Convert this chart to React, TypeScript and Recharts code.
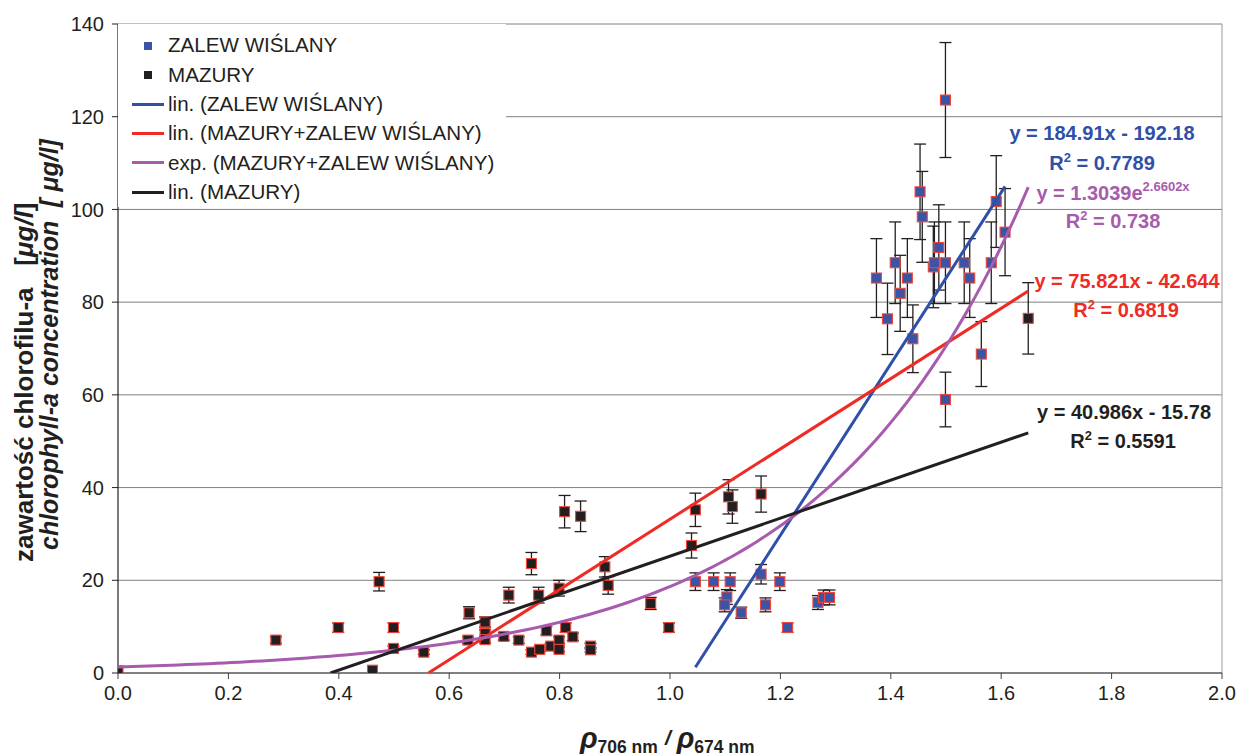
import React from 'react';
import {
  ScatterChart,
  Scatter,
  XAxis,
  YAxis,
  CartesianGrid,
  ErrorBar,
  ReferenceLine,
  Legend,
} from 'recharts';

const W = 1237;
const H = 756;
const FONT = '"Liberation Sans", Arial, Helvetica, sans-serif';

const BLUE = '#3A55A5';
const BLUE_LINE = '#2F4FA8';
const RED = '#EE2B24';
const PURPLE = '#A85BAD';
const BLACK = '#231F20';
const EDGE = '#F0463C';

// axis ticks
const xTicks = [0, 0.2, 0.4, 0.6, 0.8, 1.0, 1.2, 1.4, 1.6, 1.8, 2.0];
const yTicks = [0, 20, 40, 60, 80, 100, 120, 140];

// ZALEW WIŚLANY
const zalewX = [
  1.046, 1.079, 1.109, 1.103, 1.099, 1.129, 1.165, 1.173, 1.199, 1.213, 1.268,
  1.278, 1.289, 1.374, 1.394, 1.408, 1.417, 1.43, 1.44, 1.453, 1.457, 1.477,
  1.479, 1.487, 1.499, 1.499, 1.499, 1.533, 1.543, 1.564, 1.582, 1.591, 1.607,
];
const zalewY = [
  19.7, 19.7, 19.7, 16.4, 14.7, 13.0, 21.3, 14.7, 19.7, 9.8, 15.2, 16.3, 16.3,
  85.2, 76.4, 88.5, 81.9, 85.2, 72.1, 103.8, 98.4, 87.6, 88.5, 91.8, 88.5,
  59.0, 123.6, 88.5, 85.2, 68.8, 88.5, 101.7, 95.1,
];
const zalewErr = [
  1.9, 1.9, 1.9, 1.6, 1.5, 1.2, 2.1, 1.5, 1.9, 1.0, 1.5, 1.6, 1.6, 8.5, 7.7,
  8.8, 8.2, 8.5, 7.3, 10.3, 9.8, 8.8, 8.8, 9.2, 8.8, 5.9, 12.4, 8.8, 8.5, 7.0,
  8.8, 9.9, 9.4,
];

// MAZURY
const mazuryX = [
  0.0, 0.286, 0.399, 0.461, 0.473, 0.499, 0.499, 0.554, 0.634, 0.636, 0.665,
  0.665, 0.665, 0.699, 0.708, 0.726, 0.749, 0.749, 0.762, 0.764, 0.776, 0.784,
  0.799, 0.799, 0.799, 0.809, 0.811, 0.824, 0.838, 0.856, 0.856, 0.882, 0.888,
  0.965, 0.998, 1.039, 1.046, 1.106, 1.113, 1.165, 1.649,
];
const mazuryY = [
  0.5, 7.1, 9.8, 0.6, 19.7, 9.8, 5.3, 4.5, 7.1, 13.0, 11.0, 8.5, 7.2, 7.9,
  16.8, 7.1, 23.6, 4.5, 16.8, 5.1, 9.1, 5.8, 18.3, 7.1, 5.1, 34.8, 9.8, 7.8,
  33.8, 5.8, 5.0, 22.9, 18.9, 15.0, 9.8, 27.5, 35.2, 38.0, 35.9, 38.6, 76.5,
];
const mazuryErr = [
  0.0, 0.7, 1.0, 0.0, 2.0, 1.0, 0.5, 0.5, 0.7, 1.3, 1.1, 0.8, 0.7, 0.8, 1.7,
  0.7, 2.4, 0.5, 1.7, 0.5, 0.9, 0.6, 1.7, 0.7, 0.5, 3.5, 1.0, 0.8, 3.3, 0.6,
  0.5, 2.2, 1.9, 1.3, 1.0, 2.7, 3.6, 3.7, 3.6, 3.9, 7.7,
];

// legend labels
const legendLabels = [
  'ZALEW WIŚLANY',
  'MAZURY',
  'lin. (ZALEW WIŚLANY)',
  'lin. (MAZURY+ZALEW WIŚLANY)',
  'exp. (MAZURY+ZALEW WIŚLANY)',
  'lin. (MAZURY)',
];

// trendline coefficients, as printed on the chart
const fitZalew = { slope: 184.91, intercept: -192.18, r2: '0.7789' };
const fitAllLin = { slope: 75.821, intercept: -42.644, r2: '0.6819' };
const fitAllExp = { a: 1.3039, k: 2.6602, r2: '0.738' };
const fitMazury = { slope: 40.986, intercept: -15.78, r2: '0.5591' };

type P = { x: number; y: number; e?: number };

const toPts = (xs: number[], ys: number[], es: number[]): P[] =>
  xs.map((x, i) => ({ x, y: ys[i], e: es[i] }));

const zalewData = toPts(zalewX, zalewY, zalewErr);
const mazuryData = toPts(mazuryX, mazuryY, mazuryErr);
const allX = [...zalewX, ...mazuryX];
const allMin = Math.min(...allX);
const allMax = Math.max(...allX);

// straight trendline over a series' x-range, clipped at the plot floor (y = 0)
const linTrend = (fit: { slope: number; intercept: number }, x0: number, x1: number): P[] => {
  const start = Math.max(x0, -fit.intercept / fit.slope);
  return [
    { x: start, y: fit.slope * start + fit.intercept },
    { x: x1, y: fit.slope * x1 + fit.intercept },
  ];
};

const expTrend = (fit: { a: number; k: number }, x0: number, x1: number, n: number): P[] =>
  Array.from({ length: n + 1 }, (_, i) => {
    const x = x0 + ((x1 - x0) * i) / n;
    return { x, y: fit.a * Math.exp(fit.k * x) };
  });

const trendZalew = linTrend(fitZalew, Math.min(...zalewX), Math.max(...zalewX));
const trendAllLin = linTrend(fitAllLin, allMin, allMax);
const trendAllExp = expTrend(fitAllExp, allMin, allMax, 120);
const trendMazury = linTrend(fitMazury, Math.min(...mazuryX), Math.max(...mazuryX));

const SquareMarker = (fill: string) => (props: any) => {
  const { cx, cy } = props;
  if (cx == null || cy == null) return <g />;
  return (
    <rect
      x={cx - 5}
      y={cy - 5}
      width={10}
      height={10}
      fill={fill}
      stroke={EDGE}
      strokeWidth={1.1}
    />
  );
};

const NoMarker = () => <g />;

const legendItems = [
  { label: legendLabels[0], kind: 'square', color: BLUE },
  { label: legendLabels[1], kind: 'square', color: BLACK },
  { label: legendLabels[2], kind: 'line', color: BLUE_LINE },
  { label: legendLabels[3], kind: 'line', color: RED },
  { label: legendLabels[4], kind: 'line', color: PURPLE },
  { label: legendLabels[5], kind: 'line', color: BLACK },
];

const LegendBox = () => (
  <div
    style={{
      width: 388,
      height: 183,
      background: '#fff',
      fontFamily: FONT,
      fontSize: 20.6,
      color: BLACK,
      paddingTop: 7,
      boxSizing: 'border-box',
    }}
  >
    {legendItems.map((it) => (
      <div key={it.label} style={{ display: 'flex', alignItems: 'center', height: 29.3 }}>
        <div style={{ width: 50, height: '100%', position: 'relative', flex: '0 0 50px' }}>
          {it.kind === 'square' ? (
            <div
              style={{
                position: 'absolute',
                left: 26,
                top: '50%',
                width: 8,
                height: 8,
                marginTop: -4,
                background: it.color,
              }}
            />
          ) : (
            <div
              style={{
                position: 'absolute',
                left: 14,
                top: '50%',
                width: 32,
                height: 3,
                marginTop: -1.5,
                background: it.color,
              }}
            />
          )}
        </div>
        <span style={{ lineHeight: 1, whiteSpace: 'nowrap' }}>{it.label}</span>
      </div>
    ))}
  </div>
);

const fmtFit = (slope: number, intercept: number) =>
  `y = ${slope}x ${intercept < 0 ? '-' : '+'} ${Math.abs(intercept)}`;

const Annotations = () => (
  <svg
    width={W}
    height={H}
    style={{ position: 'absolute', left: 0, top: 0, pointerEvents: 'none' }}
  >
    <g fontFamily={FONT} fontWeight="bold" fontSize={20} textAnchor="middle">
      <text x={1102} y={140} fill={BLUE_LINE}>
        {fmtFit(fitZalew.slope, fitZalew.intercept)}
      </text>
      <text x={1102} y={170} fill={BLUE_LINE}>
        R<tspan dy={-8} fontSize={13}>2</tspan>
        <tspan dy={8}>{` = ${fitZalew.r2}`}</tspan>
      </text>

      <text x={1113} y={200} fill={PURPLE}>
        {`y = ${fitAllExp.a}e`}
        <tspan dy={-9} fontSize={13}>{`${fitAllExp.k}x`}</tspan>
      </text>
      <text x={1113} y={228} fill={PURPLE}>
        R<tspan dy={-8} fontSize={13}>2</tspan>
        <tspan dy={8}>{` = ${fitAllExp.r2}`}</tspan>
      </text>

      <text x={1127} y={288} fill={RED}>
        {fmtFit(fitAllLin.slope, fitAllLin.intercept)}
      </text>
      <text x={1126} y={317} fill={RED}>
        R<tspan dy={-8} fontSize={13}>2</tspan>
        <tspan dy={8}>{` = ${fitAllLin.r2}`}</tspan>
      </text>

      <text x={1124} y={419} fill={BLACK}>
        {fmtFit(fitMazury.slope, fitMazury.intercept)}
      </text>
      <text x={1123} y={448} fill={BLACK}>
        R<tspan dy={-8} fontSize={13}>2</tspan>
        <tspan dy={8}>{` = ${fitMazury.r2}`}</tspan>
      </text>
    </g>

    {/* y-axis title */}
    <g fontFamily={FONT} fontWeight="bold" fill={BLACK}>
      <text transform="translate(33,562) rotate(-90)" fontSize={26}>
        zawartość chlorofilu-a{'\u00a0\u00a0\u00a0'}[<tspan fontStyle="italic">μg/l</tspan>]
      </text>
      <text transform="translate(58,550) rotate(-90)" fontStyle="italic" fontSize={25}>
        chlorophyll-a concentration{'\u00a0\u00a0'}[ μg/l]
      </text>
    </g>

    {/* x-axis title */}
    <text x={580} y={748} fontFamily={FONT} fontWeight="bold" fill={BLACK}>
      <tspan fontSize={29} fontStyle="italic">ρ</tspan>
      <tspan fontSize={17.5} dy={5}>706 nm</tspan>
      <tspan fontSize={21} dx={7} dy={-8} fontStyle="italic">/</tspan>
      <tspan fontSize={29} dx={6} dy={3} fontStyle="italic">ρ</tspan>
      <tspan fontSize={17.5} dy={5}>674 nm</tspan>
    </text>
  </svg>
);

export default function App() {
  return (
    <div style={{ position: 'absolute', left: 0, top: 0, width: W, height: H, background: '#fff' }}>
      <ScatterChart width={W} height={H} margin={{ top: 24, right: 15, left: 0, bottom: 0 }}>
        <CartesianGrid vertical={false} stroke="#808080" strokeWidth={1} />
        <ReferenceLine x={2} stroke="#9A9A9A" strokeWidth={1} ifOverflow="extendDomain" />
        <XAxis
          type="number"
          dataKey="x"
          domain={[0, 2]}
          ticks={xTicks}
          interval={0}
          allowDataOverflow
          tickFormatter={(v: number) => v.toFixed(1)}
          tick={{ fontSize: 20, fill: BLACK, fontFamily: FONT }}
          tickSize={6}
          tickMargin={7}
          axisLine={{ stroke: '#404040', strokeWidth: 1.2 }}
          tickLine={{ stroke: '#404040' }}
          height={83}
        />
        <YAxis
          type="number"
          dataKey="y"
          domain={[0, 140]}
          ticks={yTicks}
          interval={0}
          allowDataOverflow
          tick={{ fontSize: 20, fill: BLACK, fontFamily: FONT }}
          tickSize={6}
          tickMargin={8}
          axisLine={{ stroke: BLACK, strokeWidth: 1.2 }}
          tickLine={{ stroke: BLACK }}
          width={118}
        />
        <Legend
          layout="horizontal"
          verticalAlign="middle"
          align="center"
          wrapperStyle={{ left: 118, top: 24, width: 388, height: 183, margin: 0, padding: 0 }}
          content={() => <LegendBox />}
        />
        <Scatter
          name={legendLabels[0]}
          data={zalewData}
          fill={BLUE}
          shape={SquareMarker(BLUE)}
          isAnimationActive={false}
        >
          <ErrorBar dataKey="e" direction="y" width={6} stroke={BLACK} strokeWidth={1.3} />
        </Scatter>
        <Scatter
          name={legendLabels[1]}
          data={mazuryData}
          fill={BLACK}
          shape={SquareMarker(BLACK)}
          isAnimationActive={false}
        >
          <ErrorBar dataKey="e" direction="y" width={6} stroke={BLACK} strokeWidth={1.3} />
        </Scatter>
        <Scatter
          name={legendLabels[2]}
          data={trendZalew}
          line={{ stroke: BLUE_LINE, strokeWidth: 3 }}
          shape={NoMarker}
          isAnimationActive={false}
        />
        <Scatter
          name={legendLabels[3]}
          data={trendAllLin}
          line={{ stroke: RED, strokeWidth: 3 }}
          shape={NoMarker}
          isAnimationActive={false}
        />
        <Scatter
          name={legendLabels[4]}
          data={trendAllExp}
          line={{ stroke: PURPLE, strokeWidth: 3 }}
          shape={NoMarker}
          isAnimationActive={false}
        />
        <Scatter
          name={legendLabels[5]}
          data={trendMazury}
          line={{ stroke: BLACK, strokeWidth: 3 }}
          shape={NoMarker}
          isAnimationActive={false}
        />
      </ScatterChart>
      <Annotations />
    </div>
  );
}
